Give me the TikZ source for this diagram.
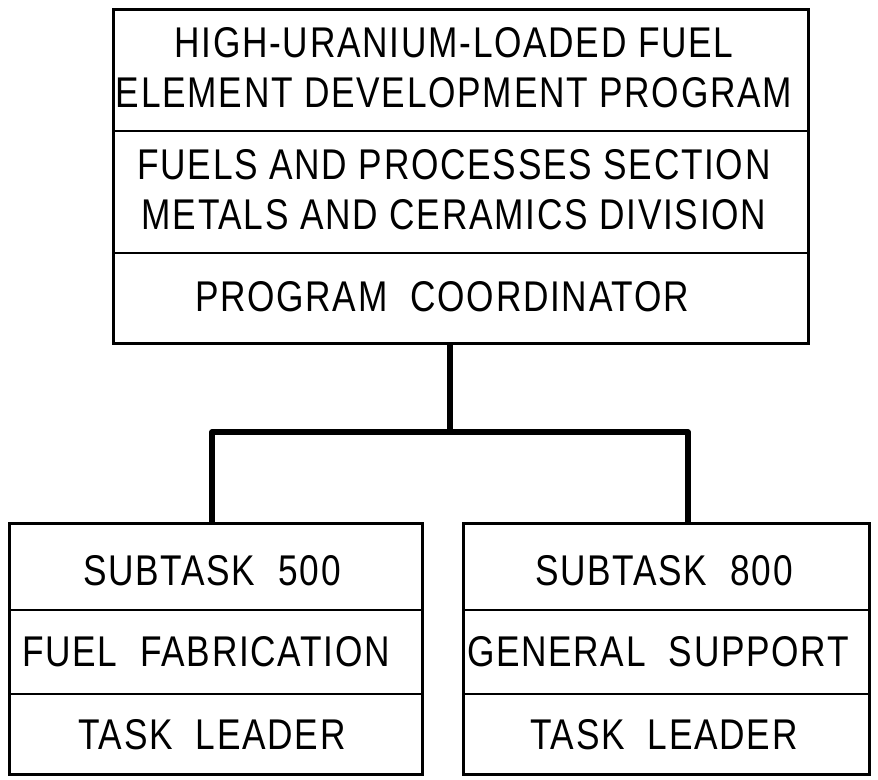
\documentclass[tikz,border=0pt]{standalone}
\usepackage{fontspec}
\setmainfont{Liberation Sans}[FakeStretch=0.82,LetterSpace=4]
\begin{document}
\begin{tikzpicture}[x=1pt,y=-1pt,
  box/.style={draw, line width=3pt, minimum width=#1, anchor=north west, inner sep=0pt},
  rule/.style={line width=2.6pt},
  conn/.style={line width=5.5pt},
  lbl/.style={font=\fontsize{43}{50}\selectfont, align=center, inner sep=0pt}]
\useasboundingbox (0,0) rectangle (878,779);
% boxes
\node[box=695pt, minimum height=334pt] (top) at (112,8) {};
\node[box=413pt, minimum height=251pt] (lb) at (8,522) {};
\node[box=406pt, minimum height=251pt] (rb) at (462,522) {};
% dividers
\draw[rule] (top.west |- 0,131) -- (top.east |- 0,131);
\draw[rule] (top.west |- 0,253) -- (top.east |- 0,253);
\draw[rule] (lb.west |- 0,610) -- (lb.east |- 0,610);
\draw[rule] (lb.west |- 0,694) -- (lb.east |- 0,694);
\draw[rule] (rb.west |- 0,610) -- (rb.east |- 0,610);
\draw[rule] (rb.west |- 0,694) -- (rb.east |- 0,694);
% texts
\node[lbl] (t1) at (454,68) {HIGH-URANIUM-LOADED FUEL\\ELEMENT DEVELOPMENT PROGRAM};
\node[lbl] (t2) at (454,190) {FUELS AND PROCESSES SECTION\\METALS AND CERAMICS DIVISION};
\node[lbl] (t3) at (442,297) {PROGRAM~ COORDINATOR};
\node[lbl] (l1) at (212,571) {SUBTASK~ 500};
\node[lbl] (l2) at (206,652) {FUEL~ FABRICATION};
\node[lbl] (l3) at (212,735) {TASK~ LEADER};
\node[lbl] (r1) at (664,571) {SUBTASK~ 800};
\node[lbl] (r2) at (658,652) {GENERAL~ SUPPORT};
\node[lbl] (r3) at (664,735) {TASK~ LEADER};
% connectors
\coordinate (jn) at (450,432);
\coordinate (la) at (212,432);
\coordinate (ra) at (688,432);
\draw[conn] (top.south -| jn) -- (jn);
\draw[conn, line join=round] (lb.north -| la) -- (la) -- (ra) -- (rb.north -| ra);
\end{tikzpicture}
\end{document}
